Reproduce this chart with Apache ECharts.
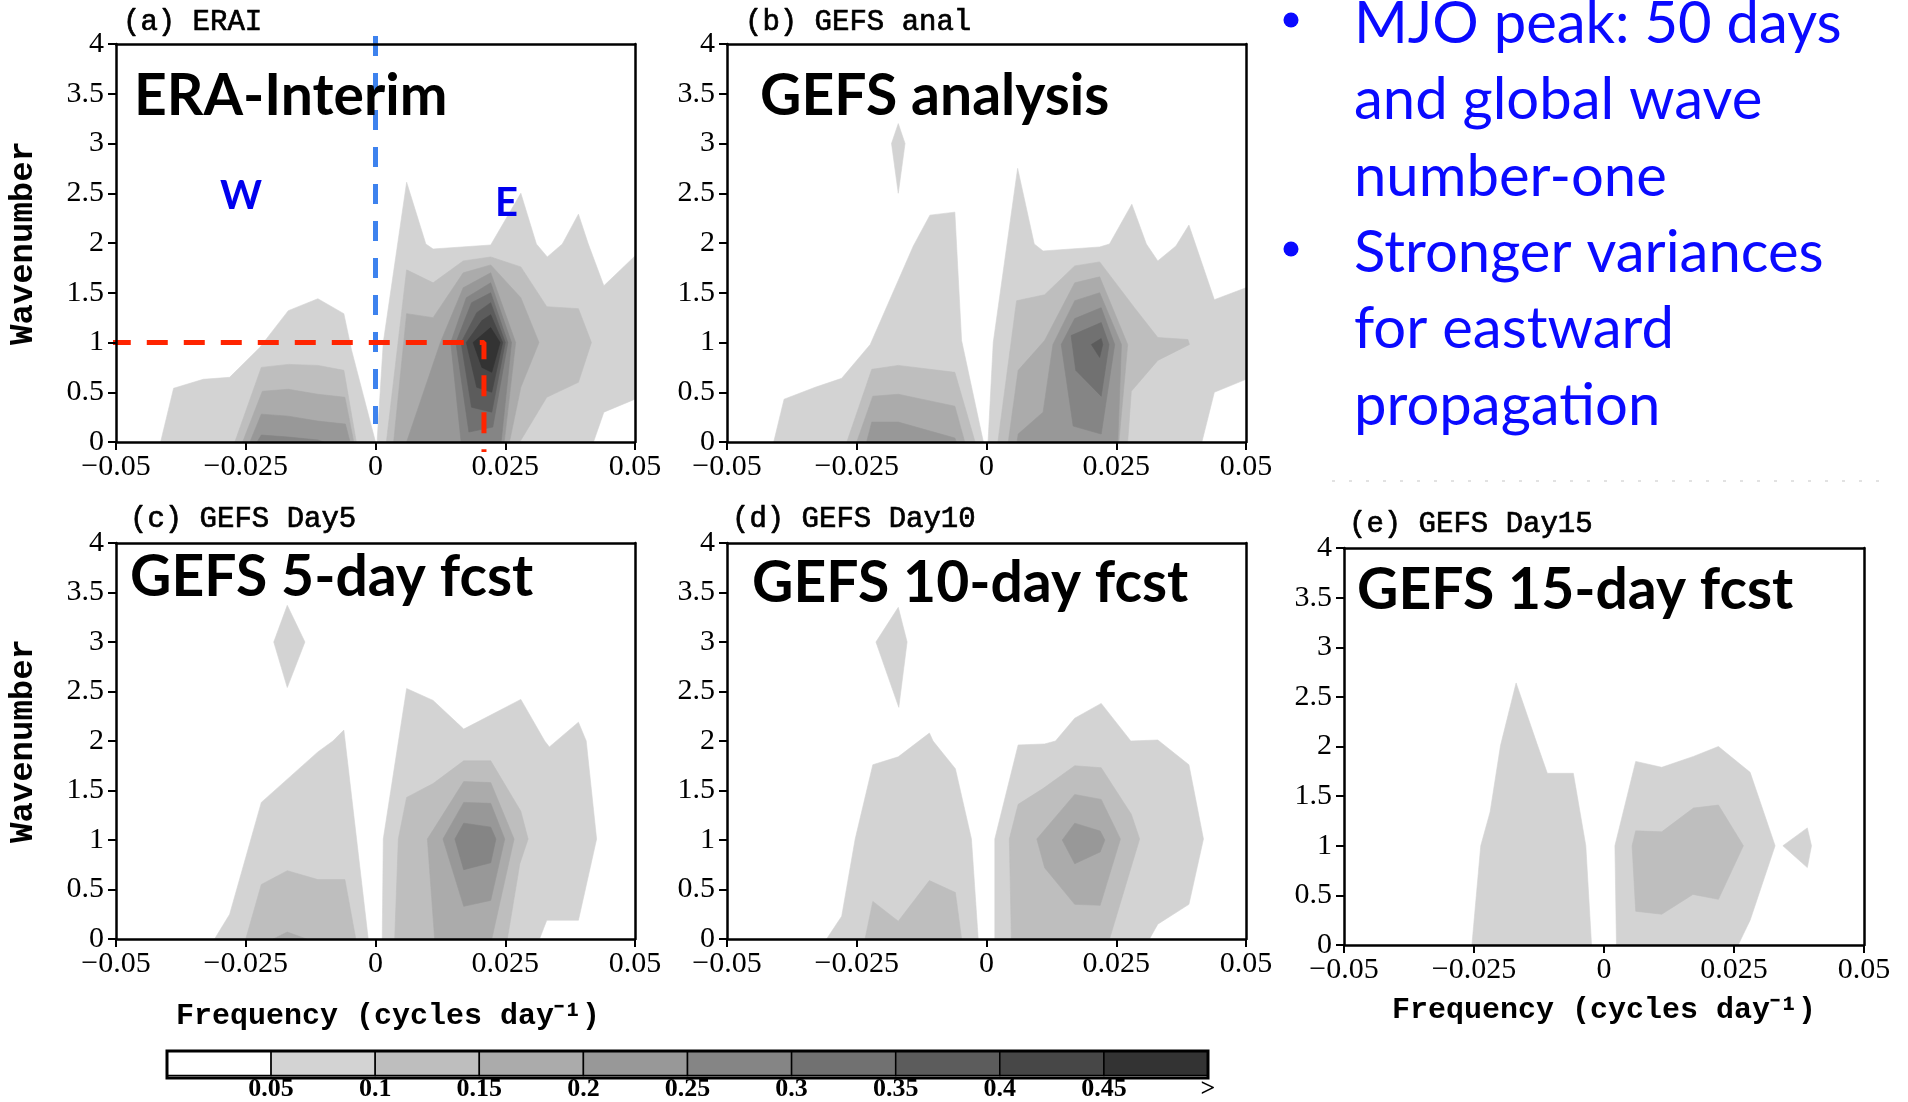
<!DOCTYPE html>
<html>
<head>
<meta charset="utf-8">
<script src="https://cdn.jsdelivr.net/npm/echarts@6/dist/echarts.min.js"></script>
<style>
  html, body { margin: 0; padding: 0; background: #fff; }
  #chart { width: 1908px; height: 1102px; }
</style>
</head>
<body>
<div id="chart"></div>
<script>
// shading of each contour level (0 = below 0.05)
var levelColors = ['#ffffff', '#d3d3d3', '#bebebe', '#ababab', '#989898', '#858585', '#717171', '#5c5c5c', '#474747', '#333333'];
var cbLabels = ['', '0.05', '0.1', '0.15', '0.2', '0.25', '0.3', '0.35', '0.4', '0.45', '>'];
var freqTicks = [-0.05, -0.025, 0, 0.025, 0.05];

// contour regions: [level, [[frequency, wavenumber], ...]]
var polysA = [
  [1, [[-0.0414, 0], [-0.0389, 0.54], [-0.0332, 0.63], [-0.0281, 0.65], [-0.0223, 0.95], [-0.0168, 1.32], [-0.0111, 1.44], [-0.0061, 1.29], [-0.0046, 0.92], [0, 0]]],
  [1, [[0.0003, 0], [0.0015, 1.0], [0.006, 2.61], [0.0097, 1.99], [0.0111, 1.94], [0.0222, 1.98], [0.028, 2.5], [0.031, 1.99], [0.0331, 1.86], [0.036, 1.99], [0.0391, 2.29], [0.041, 1.99], [0.044, 1.57], [0.05, 1.87], [0.05, 0.43], [0.044, 0.30], [0.042, 0]]],
  [2, [[-0.0271, 0], [-0.022, 0.75], [-0.0168, 0.78], [-0.0111, 0.77], [-0.0061, 0.72], [-0.0037, 0]]],
  [3, [[-0.0256, 0], [-0.0218, 0.51], [-0.0168, 0.53], [-0.0111, 0.48], [-0.0059, 0.45], [-0.0042, 0]]],
  [4, [[-0.0242, 0], [-0.022, 0.28], [-0.0168, 0.26], [-0.0111, 0.21], [-0.0058, 0.18], [-0.0049, 0]]],
  [5, [[-0.0228, 0], [-0.022, 0.07], [-0.0168, 0.05], [-0.0111, 0.02], [-0.0100, 0]]],
  [2, [[0.0021, 0], [0.006, 1.73], [0.0111, 1.6], [0.0169, 1.82], [0.0222, 1.86], [0.028, 1.76], [0.033, 1.36], [0.0391, 1.34], [0.0416, 1.0], [0.0391, 0.6], [0.033, 0.45], [0.0278, 0]]],
  [3, [[0.0035, 0], [0.006, 1.29], [0.0111, 1.25], [0.0169, 1.7], [0.0222, 1.78], [0.028, 1.45], [0.0315, 1.0], [0.028, 0.55], [0.0258, 0]]],
  [4, [[0.006, 0], [0.0125, 1.0], [0.0169, 1.55], [0.0222, 1.7], [0.027, 1.0], [0.0248, 0]]],
  [5, [[0.0165, 0], [0.0145, 1.0], [0.0175, 1.45], [0.0222, 1.6], [0.0262, 1.0], [0.0242, 0]]],
  [6, [[0.018, 0.1], [0.0155, 1.0], [0.0185, 1.4], [0.0222, 1.5], [0.0255, 1.0], [0.0226, 0.15]]],
  [7, [[0.0185, 0.35], [0.0165, 1.0], [0.0195, 1.3], [0.0222, 1.4], [0.025, 1.0], [0.0224, 0.3]]],
  [8, [[0.0195, 0.55], [0.0175, 1.0], [0.0205, 1.22], [0.0222, 1.28], [0.0245, 1.0], [0.0224, 0.5]]],
  [9, [[0.0205, 0.75], [0.0188, 1.0], [0.0215, 1.12], [0.0222, 1.15], [0.024, 1.0], [0.0224, 0.7]]]
];
var polysB = [
  [1, [[-0.041, 0], [-0.039, 0.43], [-0.033, 0.55], [-0.0279, 0.64], [-0.0224, 0.98], [-0.0141, 1.97], [-0.0109, 2.28], [-0.0061, 2.31], [-0.0048, 1.02], [-0.0006, 0]]],
  [1, [[-0.017, 3.2], [-0.0157, 3.0], [-0.017, 2.5], [-0.0183, 3.0]]],
  [2, [[-0.0269, 0], [-0.0221, 0.73], [-0.017, 0.77], [-0.0061, 0.7], [-0.0022, 0]]],
  [3, [[-0.025, 0], [-0.0219, 0.46], [-0.017, 0.48], [-0.0061, 0.36], [-0.0042, 0]]],
  [4, [[-0.0231, 0], [-0.0221, 0.2], [-0.017, 0.2], [-0.0061, 0.04], [-0.0058, 0]]],
  [1, [[0.0003, 0], [0.0013, 1.0], [0.006, 2.75], [0.0092, 1.99], [0.0109, 1.92], [0.0218, 1.96], [0.0237, 1.99], [0.028, 2.39], [0.0308, 1.99], [0.033, 1.82], [0.0365, 1.97], [0.039, 2.18], [0.0439, 1.43], [0.05, 1.55], [0.05, 0.63], [0.0439, 0.5], [0.0415, 0]]],
  [2, [[0.0022, 0], [0.0058, 1.42], [0.0112, 1.48], [0.017, 1.77], [0.0218, 1.81], [0.0285, 1.35], [0.033, 1.05], [0.0388, 1.03], [0.0391, 0.98], [0.033, 0.82], [0.0279, 0.51], [0.0272, 0]]],
  [3, [[0.0042, 0], [0.0061, 0.72], [0.0112, 1.02], [0.017, 1.6], [0.0218, 1.66], [0.0272, 0.98], [0.0255, 0]]],
  [4, [[0.0059, 0], [0.0061, 0.08], [0.0109, 0.3], [0.0128, 0.98], [0.017, 1.42], [0.0218, 1.5], [0.026, 0.98], [0.0253, 0]]],
  [5, [[0.0144, 0.98], [0.017, 1.24], [0.0221, 1.35], [0.0247, 0.98], [0.0221, 0.08], [0.0167, 0.16]]],
  [6, [[0.0163, 1.07], [0.0221, 1.2], [0.0236, 0.98], [0.0221, 0.46], [0.0172, 0.72]]],
  [7, [[0.0202, 0.98], [0.0221, 1.04], [0.0224, 0.98], [0.0218, 0.85]]]
];
var polysC = [
  [1, [[-0.031, 0], [-0.0281, 0.25], [-0.022, 1.38], [-0.0111, 1.89], [-0.0082, 2.0], [-0.0061, 2.11], [-0.0014, 0]]],
  [1, [[-0.017, 3.37], [-0.0136, 3.0], [-0.017, 2.54], [-0.0196, 3.0]]],
  [2, [[-0.025, 0], [-0.022, 0.55], [-0.017, 0.69], [-0.0111, 0.6], [-0.0059, 0.6], [-0.0038, 0]]],
  [3, [[-0.0197, 0], [-0.017, 0.07], [-0.0133, 0]]],
  [1, [[0.0013, 0], [0.0015, 1.01], [0.006, 2.53], [0.0111, 2.41], [0.017, 2.12], [0.028, 2.42], [0.0326, 2.0], [0.0335, 1.94], [0.0391, 2.19], [0.0406, 2.0], [0.0426, 1.01], [0.0391, 0.19], [0.033, 0.19], [0.0316, 0]]],
  [2, [[0.0037, 0], [0.0044, 1.01], [0.006, 1.43], [0.0111, 1.57], [0.017, 1.8], [0.0222, 1.8], [0.028, 1.29], [0.0294, 1.01], [0.0278, 0.76], [0.0254, 0]]],
  [3, [[0.0114, 0], [0.01, 1.01], [0.0111, 1.1], [0.017, 1.59], [0.0222, 1.58], [0.0267, 1.01], [0.0224, 0]]],
  [4, [[0.013, 1.01], [0.017, 1.38], [0.0222, 1.37], [0.0249, 1.01], [0.0222, 0.39], [0.017, 0.33]]],
  [5, [[0.0153, 1.01], [0.017, 1.17], [0.0222, 1.13], [0.0232, 1.01], [0.0222, 0.77], [0.017, 0.7]]]
];
var polysD = [
  [1, [[-0.0308, 0], [-0.0279, 0.23], [-0.0253, 1.01], [-0.0219, 1.76], [-0.017, 1.84], [-0.011, 2.08], [-0.0103, 2.0], [-0.006, 1.72], [-0.0029, 1.01], [-0.0016, 0]]],
  [1, [[-0.017, 3.35], [-0.0153, 3.0], [-0.0169, 2.34], [-0.0213, 3.0]]],
  [2, [[-0.0234, 0], [-0.0219, 0.38], [-0.017, 0.18], [-0.011, 0.59], [-0.006, 0.47], [-0.0048, 0]]],
  [1, [[0.0016, 0], [0.0016, 1.01], [0.0061, 1.96], [0.0112, 1.97], [0.0133, 2.0], [0.017, 2.23], [0.0221, 2.38], [0.0278, 2.0], [0.033, 2.01], [0.039, 1.76], [0.0418, 1.01], [0.039, 0.35], [0.033, 0.15], [0.0314, 0]]],
  [2, [[0.0048, 0], [0.0044, 1.01], [0.0061, 1.36], [0.0109, 1.52], [0.017, 1.75], [0.0221, 1.73], [0.0279, 1.26], [0.0295, 1.01], [0.0237, 0]]],
  [3, [[0.0097, 1.01], [0.0112, 0.72], [0.017, 0.35], [0.0219, 0.34], [0.0258, 1.01], [0.0221, 1.41], [0.017, 1.46]]],
  [4, [[0.0146, 1.0], [0.017, 1.17], [0.0219, 1.09], [0.0228, 1.0], [0.0219, 0.88], [0.017, 0.76]]]
];
var polysE = [
  [1, [[-0.0254, 0], [-0.0237, 1.0], [-0.0219, 1.34], [-0.0199, 2.01], [-0.0169, 2.64], [-0.0129, 2.03], [-0.0109, 1.73], [-0.0059, 1.73], [-0.0035, 1.0], [-0.0024, 0]]],
  [1, [[0.0024, 0], [0.0021, 1.0], [0.0061, 1.85], [0.0111, 1.79], [0.0172, 1.9], [0.022, 2.0], [0.0281, 1.74], [0.0329, 1.0], [0.0281, 0.25], [0.0258, 0]]],
  [1, [[0.0344, 1.0], [0.0391, 1.18], [0.0399, 1.0], [0.0391, 0.78]]],
  [2, [[0.0054, 1.0], [0.0061, 1.15], [0.0111, 1.14], [0.0172, 1.38], [0.022, 1.41], [0.0268, 1.0], [0.022, 0.46], [0.0171, 0.51], [0.0111, 0.31], [0.0061, 0.34]]]
];

// guide lines in panel (a)
var eastWestLine = [[0, 4.08], [0, 0.18]];
var peakLine = [[-0.0512, 1], [0.0209, 1], [0.0209, -0.1]];

var panels = [
  { polys: polysA, title: '(a) ERAI', label: 'ERA-Interim' },
  { polys: polysB, title: '(b) GEFS anal', label: 'GEFS analysis' },
  { polys: polysC, title: '(c) GEFS Day5', label: 'GEFS 5-day fcst' },
  { polys: polysD, title: '(d) GEFS Day10', label: 'GEFS 10-day fcst' },
  { polys: polysE, title: '(e) GEFS Day15', label: 'GEFS 15-day fcst' }
];

var grids = [
  { left: 116, top: 44, width: 519, height: 398 },
  { left: 727, top: 44, width: 519, height: 398 },
  { left: 116, top: 543, width: 519, height: 396 },
  { left: 727, top: 543, width: 519, height: 396 },
  { left: 1344, top: 548, width: 520, height: 397 },
  { left: 167, top: 1051, width: 1041, height: 27 }
];

var tickFont = { fontFamily: 'Liberation Serif', fontSize: 30, color: '#000' };
var nameFont = { fontFamily: 'Liberation Mono', fontWeight: 'bold', fontSize: 30, color: '#000' };

function fmtFreq(v) {
  var r = Math.round(v * 1000) / 1000;
  return r < 0 ? '\u2212' + (-r) : String(r);
}

var xAxes = [], yAxes = [], series = [];
panels.forEach(function (p, i) {
  var xa = {
    type: 'value', gridIndex: i, min: -0.05, max: 0.05, interval: 0.025, z: 10,
    axisLine: { show: true, onZero: false, lineStyle: { color: '#000', width: 2.5 } },
    axisTick: { show: true, length: 8, lineStyle: { color: '#000', width: 2 } },
    axisLabel: Object.assign({ margin: 10, showMinLabel: true, showMaxLabel: true, formatter: fmtFreq }, tickFont),
    splitLine: { show: false }
  };
  if (i === 2 || i === 4) {
    xa.name = 'Frequency (cycles day\u207B\u00B9)';
    xa.nameLocation = 'middle';
    xa.nameGap = i === 2 ? 62 : 50;
    xa.nameTextStyle = Object.assign({ padding: [0, 0, 0, i === 2 ? 25 : 0] }, nameFont);
  }
  xAxes.push(xa);
  var ya = {
    type: 'value', gridIndex: i, min: 0, max: 4, interval: 0.5, z: 10,
    axisLine: { show: true, onZero: false, lineStyle: { color: '#000', width: 2.5 } },
    axisTick: { show: true, length: 8, lineStyle: { color: '#000', width: 2 } },
    axisLabel: Object.assign({ margin: 12, showMinLabel: true, showMaxLabel: true }, tickFont),
    splitLine: { show: false }
  };
  if (i === 0 || i === 2) {
    ya.name = 'Wavenumber';
    ya.nameLocation = 'middle';
    ya.nameGap = 76;
    ya.nameTextStyle = { fontFamily: 'Liberation Mono', fontWeight: 'bold', fontSize: 34, color: '#000' };
  }
  yAxes.push(ya);

  var polys = p.polys;
  series.push({
    type: 'custom', xAxisIndex: i, yAxisIndex: i, clip: true, silent: true,
    data: polys.map(function (q) { return q[1][0]; }),
    renderItem: function (params, api) {
      var q = polys[params.dataIndex];
      return {
        type: 'polygon',
        shape: { points: q[1].map(function (pt) { return api.coord(pt); }) },
        style: { fill: levelColors[q[0]], stroke: levelColors[q[0]], lineWidth: 0.6 }
      };
    }
  });
});

// frame: top and right edges of each panel
panels.forEach(function (p, i) {
  xAxes.push({
    type: 'value', gridIndex: i, position: 'top', min: -0.05, max: 0.05, z: 10,
    axisLine: { show: true, onZero: false, lineStyle: { color: '#000', width: 2.5 } },
    axisTick: { show: false }, axisLabel: { show: false }, splitLine: { show: false }
  });
  yAxes.push({
    type: 'value', gridIndex: i, position: 'right', min: 0, max: 4, z: 10,
    axisLine: { show: true, onZero: false, lineStyle: { color: '#000', width: 2.5 } },
    axisTick: { show: false }, axisLabel: { show: false }, splitLine: { show: false }
  });
});

// colour bar
var cbIndex = xAxes.length;
xAxes.push({
  type: 'value', gridIndex: 5, min: 0, max: 10, interval: 1,
  axisLine: { show: false }, axisTick: { show: false }, splitLine: { show: false },
  axisLabel: {
    margin: 1, showMinLabel: true, showMaxLabel: true,
    fontFamily: 'Liberation Serif', fontWeight: 'bold', fontSize: 26, lineHeight: 25, color: '#000',
    formatter: function (v) { return cbLabels[Math.round(v)]; }
  }
});
yAxes.push({ type: 'value', gridIndex: 5, min: 0, max: 1, show: false });

series.push({
  type: 'custom', xAxisIndex: cbIndex, yAxisIndex: cbIndex, silent: true,
  data: levelColors.map(function (c, i) { return [i, 0]; }),
  renderItem: function (params, api) {
    var i = params.dataIndex;
    var p0 = api.coord([i, 1]);
    var p1 = api.coord([i + 1, 0]);
    return {
      type: 'rect',
      shape: { x: p0[0], y: p0[1], width: p1[0] - p0[0], height: p1[1] - p0[1] },
      style: { fill: levelColors[i], stroke: '#000', lineWidth: 1.5 }
    };
  }
});

series.push({
  type: 'line', xAxisIndex: 0, yAxisIndex: 0, data: eastWestLine, symbol: 'none', clip: false, z: 6, silent: true,
  lineStyle: { color: '#3d82ee', width: 5, type: [20, 17] }
});
series.push({
  type: 'line', xAxisIndex: 0, yAxisIndex: 0, data: peakLine, symbol: 'none', clip: false, z: 6, silent: true,
  lineStyle: { color: '#ff2400', width: 5, type: [21, 16] }
});

// text placed on the figure
var titlePos = [[123, 22], [745, 22], [130, 519], [732, 519], [1349, 524]];
var labelPos = [[134, 97], [760, 97], [130, 578], [752, 584], [1357, 591]];
var graphics = [];
panels.forEach(function (p, i) {
  graphics.push({
    type: 'text', x: titlePos[i][0], y: titlePos[i][1], z: 20,
    style: { text: p.title, font: '29px "Liberation Mono"', fill: '#000', stroke: '#000', lineWidth: 0.7, align: 'left', verticalAlign: 'middle' }
  });
  graphics.push({
    type: 'text', x: labelPos[i][0], y: labelPos[i][1], z: 20,
    style: { text: p.label, font: 'bold 57px Lato', fill: '#000', align: 'left', verticalAlign: 'middle' }
  });
});
graphics.push({ type: 'text', x: 220, y: 196, z: 20, style: { text: 'W', font: 'bold 40px Lato', fill: '#0000ee', align: 'left', verticalAlign: 'middle' } });
graphics.push({ type: 'text', x: 495, y: 203, z: 20, style: { text: 'E', font: 'bold 40px Lato', fill: '#0000ee', align: 'left', verticalAlign: 'middle' } });

var notes = ['MJO peak: 50 days', 'and global wave', 'number-one', 'Stronger variances', 'for eastward', 'propagation'];
notes.forEach(function (t, i) {
  graphics.push({
    type: 'text', x: 1354, y: 24 + i * 76.4, z: 20,
    style: { text: t, font: '58px Lato', fill: '#0a0aff', align: 'left', verticalAlign: 'middle' }
  });
});
graphics.push({ type: 'circle', shape: { cx: 1291, cy: 20, r: 7.5 }, style: { fill: '#0a0aff' }, z: 20 });
graphics.push({ type: 'circle', shape: { cx: 1291, cy: 249, r: 7.5 }, style: { fill: '#0a0aff' }, z: 20 });
graphics.push({
  type: 'line', shape: { x1: 1332, y1: 481, x2: 1886, y2: 481 }, z: 1,
  style: { stroke: '#e2e2e2', lineWidth: 2, lineDash: [3, 14] }
});
// heavier outline around the colour bar
graphics.push({
  type: 'rect', shape: { x: 167, y: 1051, width: 1041, height: 27 }, z: 20,
  style: { fill: 'none', stroke: '#000', lineWidth: 3 }
});

var myChart = echarts.init(document.getElementById('chart'));
myChart.setOption({
  animation: false,
  backgroundColor: '#fff',
  grid: grids,
  xAxis: xAxes,
  yAxis: yAxes,
  series: series,
  graphic: graphics
});
</script>
</body>
</html>
